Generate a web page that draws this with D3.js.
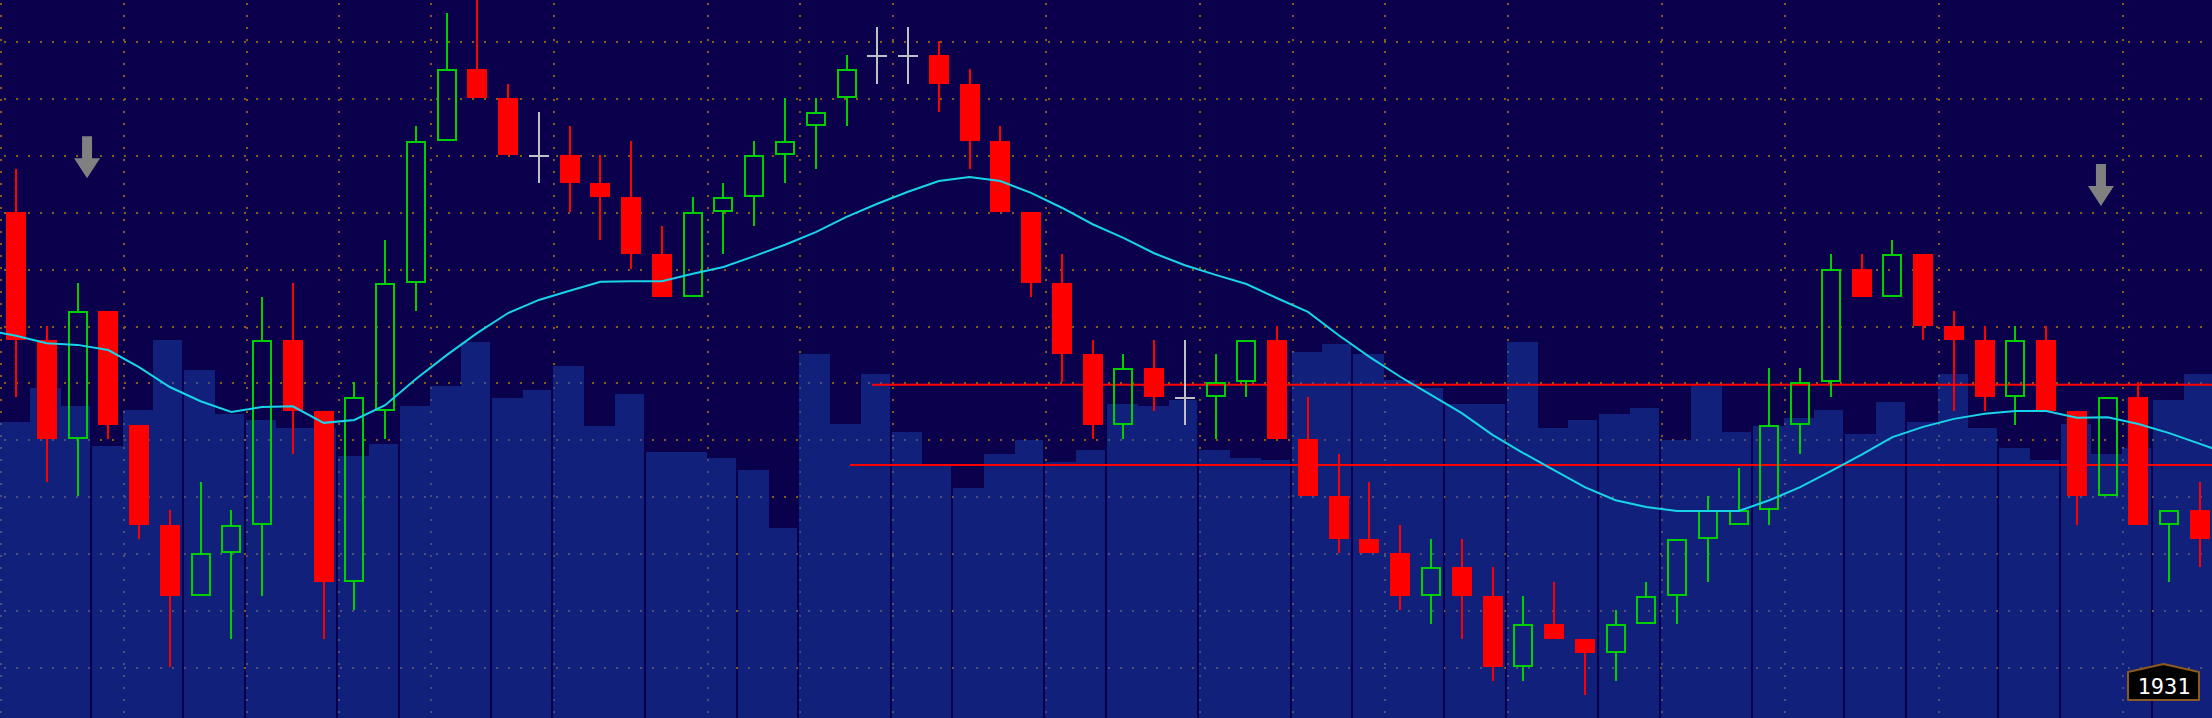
<!DOCTYPE html>
<html><head><meta charset="utf-8">
<script src="https://cdn.jsdelivr.net/npm/d3@7"></script>
<style>html,body{margin:0;padding:0;background:#0b004b;overflow:hidden}svg{display:block}</style>
</head><body>
<svg id="chart" width="2212" height="718"></svg>
<script>
// ---------- DATA ----------
const bars = d3.range(72); // bar index (categories)
const opens = [1937.00,1934.75,1933.00,1935.25,1933.25,1931.50,1930.25,1931.00,1931.50,1934.75,
 1933.50,1930.50,1933.50,1935.75,1938.25,1939.50,1939.00,1938.00,1938.00,1937.50,
 1937.25,1936.25,1935.50,1937.00,1937.25,1938.00,1938.50,1939.00,1939.75,1939.75,
 1939.75,1939.25,1938.25,1937.00,1935.75,1934.50,1933.25,1934.25,1933.75,1933.75,
 1934.00,1934.75,1933.00,1932.00,1931.25,1931.00,1930.25,1930.75,1930.25,1929.00,
 1929.75,1929.50,1929.25,1929.75,1930.25,1931.25,1931.50,1931.75,1933.25,1934.00,
 1936.00,1935.50,1936.25,1935.00,1934.75,1933.75,1934.75,1933.50,1932.00,1933.75,
 1931.50,1931.75];
const highs = [1937.75,1935.00,1935.75,1935.25,1933.25,1931.75,1932.25,1931.75,1935.50,1935.75,
 1933.50,1934.00,1936.50,1938.50,1940.50,1940.75,1939.25,1938.75,1938.50,1938.00,
 1938.25,1936.75,1937.25,1937.50,1938.25,1939.00,1939.00,1939.75,1940.25,1940.25,
 1940.00,1939.50,1938.50,1937.00,1936.25,1934.75,1934.50,1934.75,1934.75,1934.50,
 1934.75,1935.00,1933.75,1932.75,1932.25,1931.50,1931.25,1931.25,1930.75,1930.25,
 1930.50,1929.50,1930.00,1930.50,1931.25,1932.00,1932.50,1934.25,1934.25,1936.25,
 1936.25,1936.50,1936.25,1935.25,1935.00,1935.00,1935.00,1933.50,1933.75,1934.00,
 1931.75,1932.25];
const lows = [1933.75,1932.25,1932.00,1933.00,1931.25,1929.00,1930.25,1929.50,1930.25,1932.75,
 1929.50,1930.00,1933.00,1935.25,1938.25,1939.00,1938.00,1937.50,1937.00,1936.50,
 1936.00,1935.50,1935.50,1936.25,1936.75,1937.50,1937.75,1938.50,1939.25,1939.25,
 1938.75,1937.75,1937.00,1935.50,1934.00,1933.00,1933.00,1933.50,1933.25,1933.00,
 1933.75,1933.00,1932.00,1931.00,1931.00,1930.00,1929.75,1929.50,1928.75,1928.75,
 1929.50,1928.50,1928.75,1929.75,1929.75,1930.50,1931.50,1931.50,1932.75,1933.75,
 1935.50,1935.50,1934.75,1933.50,1933.50,1933.25,1933.50,1931.50,1932.00,1931.50,
 1930.50,1930.75];
const closes = [1934.75,1933.00,1935.25,1933.25,1931.50,1930.25,1931.00,1931.50,1934.75,1933.50,
 1930.50,1933.75,1935.75,1938.25,1939.50,1939.00,1938.00,1938.00,1937.50,1937.25,
 1936.25,1935.50,1937.00,1937.25,1938.00,1938.25,1938.75,1939.50,1939.75,1939.75,
 1939.25,1938.25,1937.00,1935.75,1934.50,1933.25,1934.25,1933.75,1933.75,1934.00,
 1934.75,1933.00,1932.00,1931.25,1931.00,1930.25,1930.75,1930.25,1929.00,1929.75,
 1929.50,1929.25,1929.75,1930.25,1931.25,1931.75,1931.75,1933.25,1934.00,1936.00,
 1935.50,1936.25,1935.00,1934.75,1933.75,1934.75,1933.50,1932.00,1933.75,1931.50,
 1931.75,1931.25];
const volumes = [1480,1650,1560,1360,1540,1890,1740,1520,1490,1450,
 1450,1310,1370,1560,1660,1880,1600,1640,1760,1460,
 1620,1330,1330,1300,1240,950,1820,1470,1720,1430,
 1270,1150,1320,1390,1280,1340,1570,1560,1590,1340,
 1300,1290,1830,1870,1820,1690,1650,1570,1570,1880,
 1450,1490,1520,1550,1390,1660,1430,1460,1500,1540,
 1420,1580,1480,1720,1450,1350,1290,1470,1320,1350,
 1590,1720];
// moving average: first value belongs to bar -1, last to bar 72 (just outside the view)
const movingAvg = [1934.92,
 1934.82,1934.69,1934.66,1934.57,1934.27,1933.92,1933.67,1933.48,1933.57,1933.58,
 1933.29,1933.34,1933.60,1934.06,1934.48,1934.87,1935.22,1935.45,1935.61,1935.77,
 1935.78,1935.78,1935.91,1936.03,1936.22,1936.42,1936.64,1936.91,1937.14,1937.35,
 1937.54,1937.61,1937.54,1937.33,1937.07,1936.78,1936.54,1936.27,1936.06,1935.89,
 1935.73,1935.48,1935.24,1934.83,1934.45,1934.10,1933.78,1933.46,1933.08,1932.76,
 1932.46,1932.16,1931.93,1931.81,1931.74,1931.74,1931.74,1931.93,1932.16,1932.44,
 1932.73,1933.04,1933.22,1933.36,1933.45,1933.50,1933.50,1933.38,1933.39,1933.27,
 1933.11,1932.92,
 1932.73];
const priceGrid = [1929,1930,1931,1932,1933,1934,1935,1936,1937,1938,1939,1940];
const timeGridBars = [0,4,8,11,14,18,23,26,29,34,39,42,45,49,54,58,63,69];
const sessionBreaks = [3,6,8,11,13,16,18,21,24,26,29,31,34,36,39,42,44,47,49,52,54,57,60,62,65,67,70];
const levelPrices = [1933.96, 1932.55];
const levelStartBars = [27.83, 27.11];
const arrowBars = [2.31, 67.78];
const arrowPrices = [1937.59, 1937.10];
const counterLabel = "1931";

// ---------- SCALES ----------
const W = 2212, H = 718;
const x = d3.scaleLinear().domain([0, 71]).range([16, 2200]);
const y = d3.scaleLinear().domain([1928.104, 1940.72]).range([718, 0]);
const yv = d3.scaleLinear().domain([0, 2000]).range([718, 318]);

const C = {bg:'#0b004b', vol:'#11217b', dotO:'#8c5a1a', dotG:'#4f4f78',
  red:'#ff0000', green:'#00d000', doji:'#c0c0c8', ma:'#18d4e8', arrow:'#808080'};

const svg = d3.select('#chart');
svg.append('rect').attr('width', W).attr('height', H).attr('fill', C.bg);

// volume geometry
const breakSet = new Set(sessionBreaks);
const volRect = i => {
  const l = x(i - 0.5) - 1;
  const r = x(i + 0.5) - 1 - (breakSet.has(i + 1) ? 2 : 0);
  return {x: l, w: r - l, y: yv(volumes[i]), h: H - yv(volumes[i])};
};

const defs = svg.append('defs');
const clip = defs.append('clipPath').attr('id', 'volclip');
clip.selectAll('rect').data(bars).join('rect')
  .attr('x', i => volRect(i).x).attr('y', i => volRect(i).y)
  .attr('width', i => volRect(i).w).attr('height', i => volRect(i).h);

function drawGrid(g, color) {
  g.selectAll('line.h').data(priceGrid).join('line').attr('class', 'h')
    .attr('x1', 4).attr('x2', W)
    .attr('y1', d => Math.round(y(d)) + 1).attr('y2', d => Math.round(y(d)) + 1)
    .attr('stroke', color).attr('stroke-width', 2).attr('stroke-dasharray', '2 10')
    .attr('shape-rendering', 'crispEdges');
  g.selectAll('line.v').data(timeGridBars).join('line').attr('class', 'v')
    .attr('x1', d => Math.round(x(d - 0.5))).attr('x2', d => Math.round(x(d - 0.5)))
    .attr('y1', 3).attr('y2', H)
    .attr('stroke', color).attr('stroke-width', 2).attr('stroke-dasharray', '2 10')
    .attr('shape-rendering', 'crispEdges');
}

drawGrid(svg.append('g'), C.dotO);

// volume bars
svg.append('g').selectAll('rect').data(bars).join('rect')
  .attr('x', i => volRect(i).x).attr('y', i => volRect(i).y)
  .attr('width', i => volRect(i).w).attr('height', i => volRect(i).h)
  .attr('fill', C.vol).attr('shape-rendering', 'crispEdges');

drawGrid(svg.append('g').attr('clip-path', 'url(#volclip)'), C.dotG);

// level lines
svg.append('g').selectAll('line').data(levelPrices).join('line')
  .attr('x1', (d, j) => x(levelStartBars[j])).attr('x2', W)
  .attr('y1', d => y(d)).attr('y2', d => y(d))
  .attr('stroke', C.red).attr('stroke-width', 2);

// candles
const cg = svg.append('g').attr('shape-rendering', 'crispEdges');
bars.forEach(i => {
  const o = opens[i], c = closes[i], hi = highs[i], lo = lows[i];
  const cx = Math.round(x(i));
  const col = c > o ? C.green : (c < o ? C.red : C.doji);
  const top = y(Math.max(o, c)), bot = y(Math.min(o, c));
  if (c === o) {
    cg.append('line').attr('x1', cx).attr('x2', cx).attr('y1', y(hi)).attr('y2', y(lo))
      .attr('stroke', col).attr('stroke-width', 2);
    cg.append('line').attr('x1', cx - 10).attr('x2', cx + 10).attr('y1', top + 1).attr('y2', top + 1)
      .attr('stroke', col).attr('stroke-width', 2);
    return;
  }
  if (y(hi) < top) cg.append('line').attr('x1', cx).attr('x2', cx).attr('y1', y(hi)).attr('y2', top)
      .attr('stroke', col).attr('stroke-width', 2);
  if (y(lo) > bot) cg.append('line').attr('x1', cx).attr('x2', cx).attr('y1', bot).attr('y2', y(lo))
      .attr('stroke', col).attr('stroke-width', 2);
  if (c < o) {
    cg.append('rect').attr('x', cx - 10).attr('y', top).attr('width', 20).attr('height', bot - top)
      .attr('fill', col);
  } else {
    cg.append('rect').attr('x', cx - 9).attr('y', top + 1).attr('width', 18).attr('height', bot - top - 2)
      .attr('fill', 'none').attr('stroke', col).attr('stroke-width', 2);
  }
});

// moving average
svg.append('path').datum(movingAvg)
  .attr('d', d3.line().x((d, j) => x(j - 1)).y(d => y(d)))
  .attr('fill', 'none').attr('stroke', C.ma).attr('stroke-width', 2);

// arrows
svg.append('g').selectAll('path').data(arrowBars).join('path')
  .attr('d', (d, j) => {
    const tx = x(d), ty = y(arrowPrices[j]);
    return `M${tx-5},${ty-42}h10v22h8L${tx},${ty}L${tx-13},${ty-20}h8Z`;
  })
  .attr('fill', C.arrow);

// counter label
const lg = svg.append('g');
lg.append('path')
  .attr('d', 'M2128,700 L2128,672 L2163.5,664 L2199,672 L2199,700 Z')
  .attr('fill', '#000').attr('stroke', '#8b5a1e').attr('stroke-width', 2).attr('stroke-linejoin', 'round');
lg.append('text').attr('x', 2164).attr('y', 694).attr('text-anchor', 'middle')
  .attr('font-family', 'DejaVu Sans Mono, monospace').attr('font-size', 22).attr('fill', '#fff')
  .text(counterLabel);
</script>
</body></html>
